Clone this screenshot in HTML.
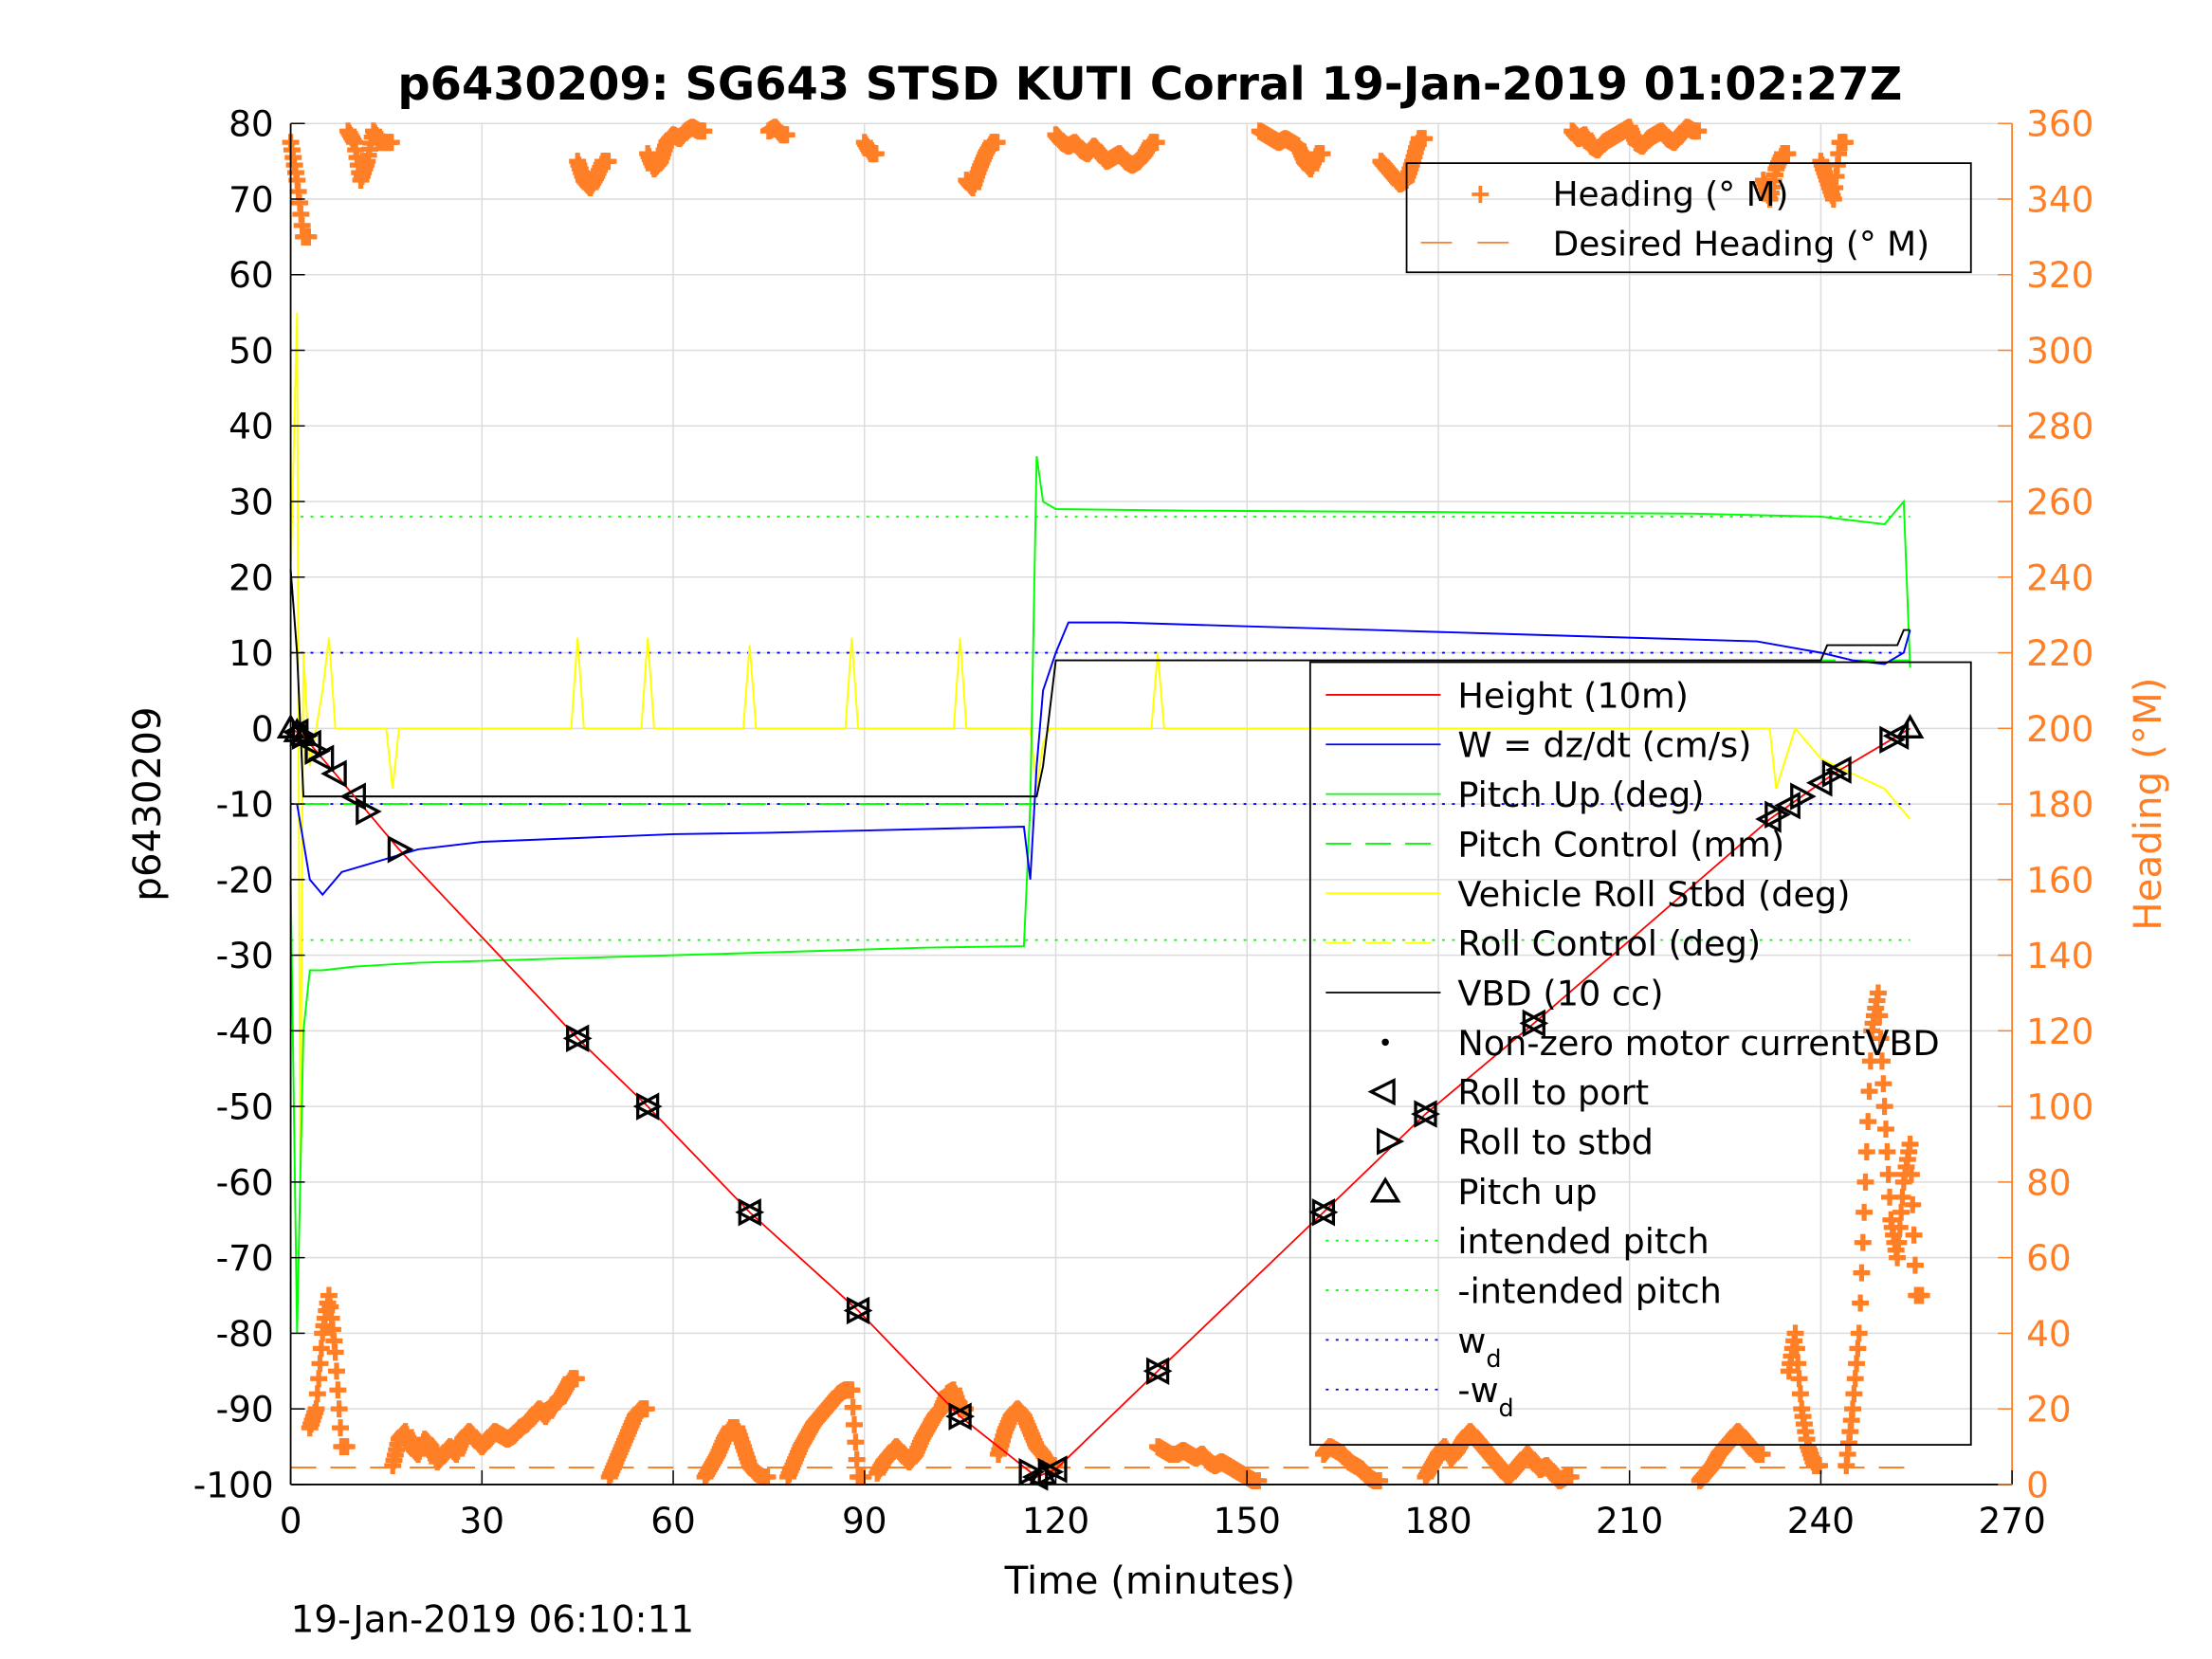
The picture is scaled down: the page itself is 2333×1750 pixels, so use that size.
<!DOCTYPE html>
<html><head><meta charset="utf-8"><style>
html,body{margin:0;padding:0;background:#fff}
svg{display:block}
text{font-family:"DejaVu Sans","Liberation Sans",sans-serif}
</style></head><body>
<svg id="chart" width="2333" height="1750" viewBox="0 0 1560 1170" xmlns="http://www.w3.org/2000/svg">
<rect width="1560" height="1170" fill="#fff"/>
<g id="grid"></g>
<g id="series"></g>
<g id="axes"></g>
<text x="811" y="70" font-size="32" font-weight="bold" text-anchor="middle">p6430209: SG643 STSD KUTI Corral 19-Jan-2019 01:02:27Z</text>
<text x="811" y="1124" font-size="27" text-anchor="middle">Time (minutes)</text>
<text transform="translate(113,567) rotate(-90)" font-size="27" text-anchor="middle">p6430209</text>
<text transform="translate(1524,567) rotate(-90)" font-size="27" text-anchor="middle" fill="#ff7f27">Heading (°M)</text>
<text x="205" y="1151" font-size="26">19-Jan-2019 06:10:11</text>
<g id="legend1"></g>
<g id="legend2"></g>
</svg>
<script>
const NS="http://www.w3.org/2000/svg";
const X0=205,X1=1419,YT=87,YB=1047;
const xTicks=[0,30,60,90,120,150,180,210,240,270];
const yTicks=[80,70,60,50,40,30,20,10,0,-10,-20,-30,-40,-50,-60,-70,-80,-90,-100];
const y2Ticks=[360,340,320,300,280,260,240,220,200,180,160,140,120,100,80,60,40,20,0];
function xs(t){return X0+(t/270)*(X1-X0);}
function ys(v){return YB-(v+100)/180*(YB-YT);}
function y2s(h){return YB-h/360*(YB-YT);}
function mk(tag,attrs,parent){const e=document.createElementNS(NS,tag);for(const k in attrs)e.setAttribute(k,attrs[k]);parent.appendChild(e);return e;}

// ---- data ----
const heading=[355,345,330,15,20,40,50,35,10,358,355,345,350,358,355,355,5,12,14,10,8,12,10,6,8,10,8,12,14,12,10,12,14,13,12,13,15,16,18,20,18,21,22,25,28,350,345,343,346,350,2,6,10,14,18,20,352,348,350,355,357,356,358,359,358,2,5,8,12,15,15,10,5,3,2,358,359,357,2,6,10,13,16,18,20,22,24,25,25,2,355,352,3,6,8,10,8,6,8,12,15,18,20,24,25,20,345,343,348,352,355,8,14,18,20,18,14,10,8,5,357,355,354,355,353,352,354,352,350,351,352,350,349,350,352,355,10,9,8,8,9,8,7,8,6,5,6,5,4,3,2,1,358,357,356,355,356,355,354,350,348,352,8,10,9,8,6,5,4,2,1,350,348,346,344,345,350,356,2,5,8,10,7,9,12,14,12,10,8,6,4,2,4,6,8,6,4,5,3,1,2,358,356,357,354,353,355,356,357,358,359,355,354,356,357,358,356,355,357,359,358,1,3,5,8,10,12,14,12,10,8,345,340,348,352,30,40,20,10,5,350,345,340,355,5,20,40,80,120,130,100,70,60,80,90,50];
const depthT=[0,2,17,45,56,72,89,105,117,120,136,162,178,195,232,242,252,254];
const height=[0,-1,-16,-41,-50,-64,-77,-91,-99,-98,-85,-64,-51,-39,-12,-6,-1,0];
const wT=[1,2,3,5,8,12,20,30,45,60,75,90,105,115,116,117,118,120,122,130,150,170,190,210,230,240,245,250,253,254];
const wVal=[-10,-15,-20,-22,-19,-18,-16,-15,-14.5,-14,-13.8,-13.5,-13.2,-13,-20,-5,5,10,14,14,13.5,13,12.5,12,11.5,10,9,8.5,10,13];
const pitchT=[0,1,2,3,5,10,20,40,60,80,100,115,116,117,118,120,140,160,180,200,220,240,245,250,253,254];
const pitchVal=[-20,-80,-40,-32,-32,-31.5,-31,-30.5,-30,-29.5,-29,-28.8,-10,36,30,29,28.8,28.7,28.6,28.5,28.4,28,27.5,27,30,8];
const rollT=[0,1,1.5,2,3,5,6,7,8,15,16,17,18,44,45,46,55,56,57,71,72,73,87,88,89,104,105,106,116,117,118,119,135,136,137,232,233,236,240,245,250,254];
const rollVal=[20,55,-60,10,-5,5,12,0,0,0,-8,0,0,0,12,0,0,12,0,0,11,0,0,12,0,0,12,0,0,-8,-2,0,0,10,0,0,-8,0,-4,-6,-8,-12];
const vbdT=[0,1,2,117,118,120,240,241,252,253,254];
const vbdVal=[21,10,-9,-9,-5,9,9,11,11,13,13];
const portT=[1,3,5,7,10,45,56,72,89,105,117,120,136,162,178,195,232,235,240,243,252];
const stbdT=[2,4,12,17,45,56,72,89,105,116,119,136,162,178,195,233,237,242,251];
const pitchUpT=[0,1,2,118,254];

const grid=document.getElementById('grid');
xTicks.forEach(t=>{const l=mk('line',{x1:xs(t),x2:xs(t),y1:YT,y2:YB,stroke:'#dcdcdc','stroke-width':1},grid);});
yTicks.forEach(v=>{const l=mk('line',{x1:X0,x2:X1,y1:ys(v),y2:ys(v),stroke:'#dcdcdc','stroke-width':1},grid);});

const S=document.getElementById('series');
function interpAt(T,V,t){for(let i=1;i<T.length;i++){if(t<=T[i]){const f=(t-T[i-1])/(T[i]-T[i-1]);return V[i-1]+f*(V[i]-V[i-1]);}}return V[V.length-1];}
function path(T,V,color,w,dash,name){const d=T.map((t,i)=>(i?'L':'M')+xs(t).toFixed(1)+','+ys(V[i]).toFixed(1)).join('');const p=mk('path',{d:d,fill:'none',stroke:color,'stroke-width':w},S);if(dash)p.setAttribute('stroke-dasharray',dash);return p;}
function hline(v,t0,t1,color,dash,name){const l=mk('line',{x1:xs(t0),x2:xs(t1),y1:ys(v),y2:ys(v),stroke:color,'stroke-width':1.2,'stroke-dasharray':dash},S);}

// heading markers
const hg=mk('g',{stroke:'#ff7f27','stroke-width':3.5},S);


heading.forEach((h,i)=>{for(let k=0;k<5;k++){const t=i+k/5;const hn=heading[Math.min(i+1,heading.length-1)];let hv=h;if(Math.abs(hn-h)<90)hv=h+(hn-h)*k/5;const x=xs(t),y=y2s(hv);mk('path',{d:`M${x-6},${y}H${x+6}M${x},${y-6}V${y+6}`},hg);}});
// desired heading
const dh=mk('line',{x1:xs(0),x2:xs(254),y1:y2s(4.5),y2:y2s(4.5),stroke:'#ff7f27','stroke-width':1.3,'stroke-dasharray':'18,10'},S);



hline(28,0,254,'#00ff00','2,5','intended-pitch-line');
hline(-28,0,254,'#00ff00','2,5','neg-intended-pitch-line');
hline(10,0,254,'#0000ff','2,5','wd-line');
hline(-10,0,254,'#0000ff','2,5','neg-wd-line');
hline(-10,2,117,'#00ff00','18,10','pitch-control-left');
hline(9,120,254,'#00ff00','18,10','pitch-control-right');

path(rollT,rollVal,'#ffff00',1.3,null,'vehicle-roll-line');
path(pitchT,pitchVal,'#00ff00',1.3,null,'pitch-line');
path(wT,wVal,'#0000ff',1.3,null,'w-line');
path(vbdT,vbdVal,'#000000',1.3,null,'vbd-line');
path(depthT,height,'#ff0000',1.2,null,'height-line');

const mg=mk('g',{fill:'none',stroke:'#000','stroke-width':2.2},S);


portT.forEach(t=>{const x=xs(t),y=ys(interpAt(depthT,height,t));mk('path',{d:`M${x+7},${y-8}L${x-8},${y}L${x+7},${y+8}Z`},mg);});
stbdT.forEach(t=>{const x=xs(t),y=ys(interpAt(depthT,height,t));mk('path',{d:`M${x-7},${y-8}L${x+8},${y}L${x-7},${y+8}Z`},mg);});
pitchUpT.forEach(t=>{const x=xs(t),y=ys(interpAt(depthT,height,t));mk('path',{d:`M${x-8},${y+6}L${x},${y-8}L${x+8},${y+6}Z`},mg);});

// axes
const A=document.getElementById('axes');
mk('line',{x1:X0,x2:X0,y1:YT,y2:YB,stroke:'#000','stroke-width':1.2},A);
mk('line',{x1:X0,x2:X1,y1:YB,y2:YB,stroke:'#000','stroke-width':1.2},A);
mk('line',{x1:X1,x2:X1,y1:YT,y2:YB,stroke:'#ff7f27','stroke-width':1.2},A);
xTicks.forEach(t=>{mk('line',{x1:xs(t),x2:xs(t),y1:YB,y2:YB-10,stroke:'#000'},A);const tx=mk('text',{x:xs(t),y:YB+34,'font-size':25,'text-anchor':'middle'},A);tx.textContent=t;});
yTicks.forEach(v=>{mk('line',{x1:X0,x2:X0+10,y1:ys(v),y2:ys(v),stroke:'#000'},A);const tx=mk('text',{x:X0-12,y:ys(v)+9,'font-size':25,'text-anchor':'end'},A);tx.textContent=v;});
y2Ticks.forEach(h=>{mk('line',{x1:X1,x2:X1-10,y1:y2s(h),y2:y2s(h),stroke:'#ff7f27'},A);const tx=mk('text',{x:X1+10,y:y2s(h)+9,'font-size':25,fill:'#ff7f27'},A);tx.textContent=h;});

// legend 1
const L1=document.getElementById('legend1');
mk('rect',{x:992,y:115,width:398,height:77,fill:'none',stroke:'#000','stroke-width':1.2},L1);
mk('path',{d:'M1038,137H1050M1044,131V143',stroke:'#ff7f27','stroke-width':2.5},L1);
mk('line',{x1:1002,x2:1078,y1:171,y2:171,stroke:'#ff7f27','stroke-width':1.2,'stroke-dasharray':'22,18'},L1);
[['Heading (° M)',145],['Desired Heading (° M)',180]].forEach(([s,y])=>{const t=mk('text',{x:1095,y:y,'font-size':24},L1);t.textContent=s;});

// legend 2
const L2=document.getElementById('legend2');
mk('rect',{x:924,y:467,width:466,height:552,fill:'none',stroke:'#000','stroke-width':1.2},L2);
const items=[['Height (10m)','line','#ff0000',null],['W = dz/dt (cm/s)','line','#0000ff',null],['Pitch Up (deg)','line','#00ff00',null],['Pitch Control (mm)','line','#00ff00','18,10'],['Vehicle Roll Stbd (deg)','line','#ffff00',null],['Roll Control (deg)','line','#ffff00','18,10'],['VBD (10 cc)','line','#000',null],['Non-zero motor currentVBD','dot'],['Roll to port','port'],['Roll to stbd','stbd'],['Pitch up','up'],['intended pitch','line','#00ff00','2,5'],['-intended pitch','line','#00ff00','2,5'],['w','line','#0000ff','2,5'],['-w','line','#0000ff','2,5']];
items.forEach((it,i)=>{const y=490+i*35;const [s,k,c,d]=it;
 if(k==='line'){const l=mk('line',{x1:935,x2:1016,y1:y,y2:y,stroke:c,'stroke-width':1.2},L2);if(d)l.setAttribute('stroke-dasharray',d);}
 else if(k==='dot')mk('circle',{cx:977,cy:y,r:2.5,fill:'#000'},L2);
 else if(k==='port')mk('path',{d:`M983,${y-8}L967,${y}L983,${y+8}Z`,fill:'none',stroke:'#000','stroke-width':2.2},L2);
 else if(k==='stbd')mk('path',{d:`M972,${y-8}L988,${y}L972,${y+8}Z`,fill:'none',stroke:'#000','stroke-width':2.2},L2);
 else mk('path',{d:`M968,${y+7}L977,${y-8}L986,${y+7}Z`,fill:'none',stroke:'#000','stroke-width':2.2},L2);
 const t=mk('text',{x:1028,y:y+9,'font-size':24.5},L2);t.textContent=s;
 if(s==='w'||s==='-w'){const sub=mk('tspan',{dy:10,'font-size':17},t);sub.textContent='d';}
 });
</script>
</body></html>
